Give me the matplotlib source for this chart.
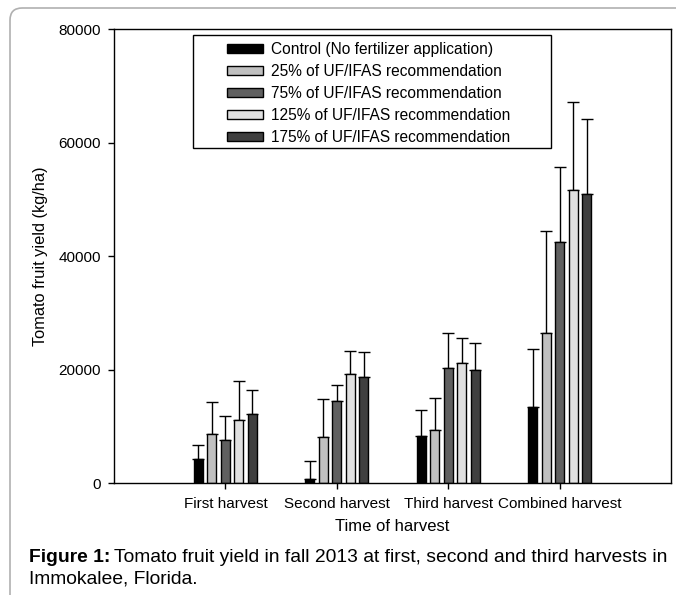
import matplotlib
matplotlib.use("Agg")
import matplotlib.pyplot as plt
import numpy as np
from matplotlib.patches import FancyBboxPatch, Rectangle

plt.rcParams['font.family'] = ['Liberation Sans', 'DejaVu Sans']

harvests = ["First harvest", "Second harvest", "Third harvest", "Combined harvest"]
treatments = ["Control (No fertilizer application)",
              "25% of UF/IFAS recommendation",
              "75% of UF/IFAS recommendation",
              "125% of UF/IFAS recommendation",
              "175% of UF/IFAS recommendation"]

# mean yield (kg/ha) per treatment, one value per harvest
control = [4230, 810, 8330, 13390]
uf25 = [8690, 8210, 9370, 26430]
uf75 = [7680, 14550, 20230, 42570]
uf125 = [11150, 19310, 21200, 51680]
uf175 = [12260, 18680, 20020, 51030]

# upper error bar (kg/ha)
control_err = [2470, 3120, 4620, 10270]
uf25_err = [5690, 6590, 5710, 17970]
uf75_err = [4120, 2770, 6250, 13160]
uf125_err = [6930, 4060, 4460, 15450]
uf175_err = [4180, 4400, 4650, 13220]

means = [control, uf25, uf75, uf125, uf175]
errs = [control_err, uf25_err, uf75_err, uf125_err, uf175_err]
colors = ["#000000", "#c0c0c0", "#606060", "#e0e0e0", "#404040"]

W, H = 676, 595
fig = plt.figure(figsize=(W / 100, H / 100), dpi=100)

# panel border (top and left edges visible, rounded corner)
border = FancyBboxPatch((10 / W, -0.2), 1.3, 1.2 - 8 / H,
                        boxstyle="round,pad=0,rounding_size=0.018",
                        mutation_aspect=W / H, transform=fig.transFigure,
                        facecolor="none", edgecolor="#b0b0b0", lw=1.2)
fig.patches.append(border)

ax = fig.add_axes([114 / W, 1 - 483.3 / H, 557 / W, 454 / H])

x = np.arange(1, len(harvests) + 1)
step = 0.1212
width = 0.08
handles = []
for i, (m, e, c) in enumerate(zip(means, errs, colors)):
    pos = x + (i - 2) * step
    b = ax.bar(pos, m, width, color=c, edgecolor="black", linewidth=1, zorder=2)
    ax.errorbar(pos, m, yerr=[np.zeros(len(e)), e], fmt="none", ecolor="black",
                elinewidth=1, capsize=4.3, capthick=1, zorder=1)
    handles.append(b)

ax.set_xlim(0, 5)
ax.set_ylim(0, 80000)
ax.set_yticks([0, 20000, 40000, 60000, 80000])
ax.set_xticks(x)
ax.set_xticklabels(harvests)
ax.tick_params(axis="both", direction="out", length=4.1, width=1, labelsize=11, pad=5.5)
for s in ax.spines.values():
    s.set_linewidth(1)
ax.set_ylabel("Tomato fruit yield (kg/ha)", fontsize=11.8, labelpad=7)
ax.set_xlabel("Time of harvest", fontsize=12, labelpad=6)

# legend box
leg = ax.legend(handles, treatments, loc="upper left", frameon=False,
                bbox_to_anchor=((220 - 114) / 557, (483.3 - 35) / 454),
                borderaxespad=0, fontsize=11.2, handlelength=2.3, handleheight=0.55,
                handletextpad=0.5, labelspacing=0.45, borderpad=0.45)
ax.add_patch(Rectangle(((192.7 - 114) / 557, (483.3 - 148.3) / 454),
                       358 / 557, 113.3 / 454, transform=ax.transAxes,
                       facecolor="none", edgecolor="black", lw=1, zorder=5))

# caption
cap_y = 1 - 557 / H
t1 = fig.text(29 / W, cap_y, "Figure 1:", fontsize=13.9, fontweight="bold", va="center")
fig.canvas.draw()
bb = t1.get_window_extent()
fig.text(bb.x1 / W + 4 / W, cap_y,
         "Tomato fruit yield in fall 2013 at first, second and third harvests in",
         fontsize=13.9, va="center")
fig.text(29 / W, 1 - 579 / H, "Immokalee, Florida.", fontsize=13.9, va="center")

fig.savefig("out.png", dpi=100)
